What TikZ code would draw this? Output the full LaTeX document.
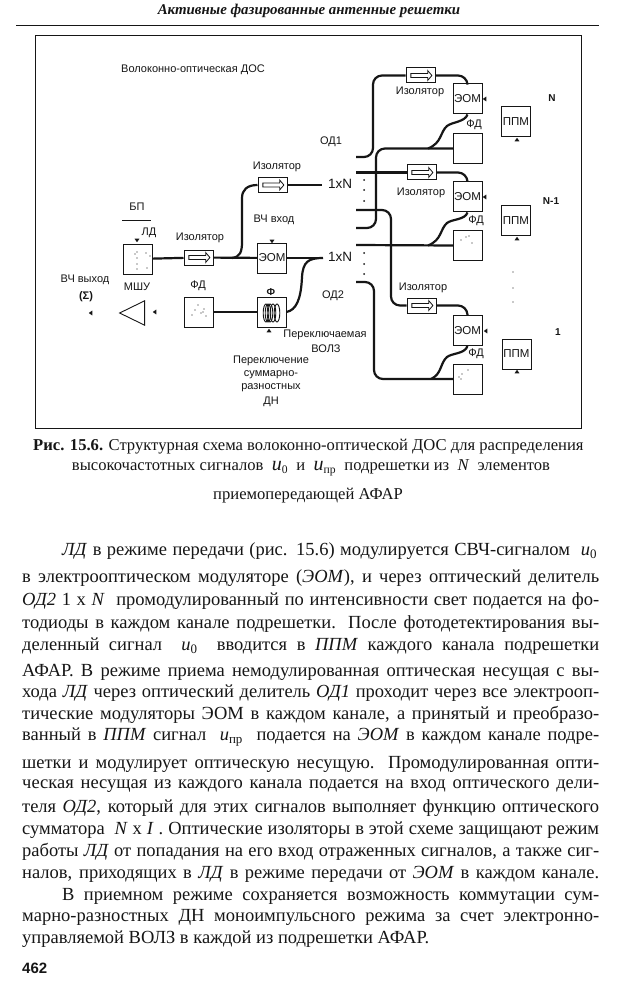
\documentclass[tikz,border=0pt]{standalone}
\usepackage{fontspec}
\setmainfont{Liberation Serif}
\newfontfamily\diagfont{Liberation Sans}
\usetikzlibrary{calc, positioning, arrows.meta, shapes.geometric, shapes.arrows}
\definecolor{inkblack}{RGB}{22,22,22}
\newcommand{\bodyw}{577pt}

\begin{document}
\begin{tikzpicture}[
  x=1pt, y=-1pt,
  every node/.style={inner sep=0pt, text=inkblack},
  lbl/.style={font=\diagfont\fontsize{11}{12}\selectfont, align=center},
  eomtxt/.style={font=\diagfont\fontsize{11.5}{12}\selectfont},
  blk/.style={draw=inkblack, line width=1pt, fill=white, minimum width=29pt, minimum height=30pt},
  isobox/.style={draw=inkblack, line width=1pt, fill=white, minimum width=29pt, minimum height=15pt},
  flow/.style={single arrow, draw=inkblack, line width=0.8pt, minimum width=10pt,
               minimum height=21pt, single arrow head extend=2pt, single arrow tip angle=100, inner sep=1pt},
  fibre/.style={draw=inkblack, line width=2.2pt, rounded corners=9pt},
  fibrecurve/.style={draw=inkblack, line width=2.2pt},
  tick/.style={fill=inkblack, isosceles triangle, isosceles triangle apex angle=70, minimum size=3.5pt},
  speck/.style={circle, fill=inkblack, minimum size=1.2pt},
  bodyln/.style={anchor=west, font=\fontsize{18.5}{20}\selectfont},
  captln/.style={font=\fontsize{16.6}{18}\selectfont}
]
\useasboundingbox (0,0) rectangle (632,1000);
\fill[white] (0,0) rectangle (632,1000);
% page head
\node[font=\bfseries\itshape\fontsize{14.9}{16}\selectfont] (head) at (309,11) {Активные фазированные антенные решетки};
\coordinate (ruleL) at (16,25);
\coordinate (ruleR) at (599,25);
\draw[line width=0.9pt, inkblack] (ruleL) -- (ruleR);
% frame
\draw[line width=1pt, inkblack] (35,36) rectangle (581,428);
\node[lbl] (title) at (193,70) {Волоконно-оптическая ДОС};
% transmitter part
\node[lbl] (bp) at (137,207) {БП};
\draw[line width=0.4pt, inkblack] (122,220) -- (151,220);
\node[lbl] (ldtxt) at (149,233) {ЛД};
\node[blk] (ld) at (137.5,259) {};
\node[tick, shape border rotate=270] (ldtick) at (137,240) {};
\foreach \px/\py in {137/252,137/258,137/264,137/269,146/253,150/256,135/254,147/268}
  \node[speck] at (\px,\py) {};
\node[lbl] (isoAtxt) at (200,238) {Изолятор};
\node[isobox] (isoA) at (198.5,257.5) {};
\node[flow] (isoAf) at (198.5,257.5) {};
\node[blk] (eom) at (272,258) {};
\node[eomtxt] (eomlab) at (272,258) {ЭОМ};
\node[tick, shape border rotate=270] (eomtick) at (272,241) {};
\node[lbl] (vchin) at (274,220) {ВЧ вход};
\node[lbl] (isoBtxt) at (277,167) {Изолятор};
\node[isobox] (isoB) at (272.5,185) {};
\node[flow] (isoBf) at (272.5,185) {};
\node[lbl, font=\diagfont\fontsize{13.5}{15}\selectfont] (spa) at (340,184) {1xN};
\node[lbl, font=\diagfont\fontsize{13.5}{15}\selectfont] (spb) at (340,257) {1xN};
\node[lbl] (oda) at (331,142) {ОД1};
\node[lbl] (odb) at (333,296) {ОД2};
\node[blk] (fd) at (198.5,312) {};
\node[lbl] (fdtxt) at (198,286) {ФД};
\foreach \px/\py in {192/315,195/310,198/305,201/313,204/309,206/316,203/312}
  \node[speck] at (\px,\py) {};
\node[blk] (volz) at (271.5,312) {};
\node[lbl, font=\diagfont\bfseries\fontsize{10}{11}\selectfont] (phi) at (271,292) {Ф};
\foreach \cx in {266,268,270,273,277}
  \draw[line width=0.9pt, inkblack] (\cx,313) ellipse (2.8pt and 9pt);
\node[tick, shape border rotate=90] (voltick) at (269,331) {};
\node[lbl] (sw) at (325,335) {Переключаемая};
\node[lbl] (swb) at (326,349) {ВОЛЗ};
\node[lbl] (swc) at (271,361) {Переключение};
\node[lbl] (swd) at (271,375) {суммарно-};
\node[lbl] (swe) at (271,388) {разностных};
\node[lbl] (swf) at (271,402) {ДН};
\node[lbl] (mshu) at (137,287) {МШУ};
\node[draw=inkblack, line width=0.9pt, isosceles triangle, isosceles triangle apex angle=52,
      shape border rotate=180, minimum height=25pt, inner sep=0pt] (amp) at (137,313) {};
\node[tick, shape border rotate=180] (amptick) at (155,312) {};
\node[lbl] (vchout) at (85,280) {ВЧ выход};
\node[lbl, font=\diagfont\bfseries\fontsize{11}{12}\selectfont] (sum) at (86,297) {(Σ)};
\node[tick, shape border rotate=180] (outtick) at (91,313) {};
% channel N
\node[isobox] (isoN) at (420.5,75.5) {};
\node[flow] (isoNf) at (420.5,75.5) {};
\node[lbl] (isoNtxt) at (420,92) {Изолятор};
\node[blk] (eomN) at (467.5,99) {};
\node[eomtxt] (eomNlab) at (467.5,99) {ЭОМ};
\node[tick, shape border rotate=180] (eomNtick) at (485,99) {};
\node[lbl] (fdNtxt) at (474,125) {ФД};
\node[blk] (fdN) at (468,148.5) {};
\node[blk, eomtxt] (ppmN) at (516,122) {ППМ};
\node[tick, shape border rotate=90] (ppmNtick) at (517,140) {};
\node[lbl, font=\diagfont\bfseries\fontsize{10}{11}\selectfont] (chN) at (552,98) {N};
% channel N-1
\node[isobox] (isoM) at (421.5,172.5) {};
\node[flow] (isoMf) at (421.5,172.5) {};
\node[lbl] (isoMtxt) at (421,193) {Изолятор};
\node[blk] (eomM) at (467.5,197) {};
\node[eomtxt] (eomMlab) at (467.5,197) {ЭОМ};
\node[tick, shape border rotate=180] (eomMtick) at (485,197) {};
\node[lbl] (fdMtxt) at (476,221) {ФД};
\node[blk] (fdM) at (468,245.5) {};
\foreach \px/\py in {461/240,466/237,469/236,472/243}
  \node[speck] at (\px,\py) {};
\node[blk, eomtxt] (ppmM) at (516,221) {ППМ};
\node[tick, shape border rotate=90] (ppmMtick) at (517,239) {};
\node[lbl, font=\diagfont\bfseries\fontsize{10}{11}\selectfont] (chM) at (551,201) {N-1};
% channel 1
\node[isobox] (isoP) at (421.5,305.5) {};
\node[flow] (isoPf) at (421.5,305.5) {};
\node[lbl] (isoPtxt) at (423,288) {Изолятор};
\node[blk] (eomP) at (467.5,330.5) {};
\node[eomtxt] (eomPlab) at (467.5,330.5) {ЭОМ};
\node[tick, shape border rotate=180] (eomPtick) at (486,331) {};
\node[lbl] (fdPtxt) at (476,354) {ФД};
\node[blk] (fdP) at (468,379) {};
\foreach \px/\py in {459/377,462/374,468/370,461/379}
  \node[speck] at (\px,\py) {};
\node[blk, eomtxt] (ppmP) at (516.5,354) {ППМ};
\node[tick, shape border rotate=90] (ppmPtick) at (517,372) {};
\node[lbl, font=\diagfont\bfseries\fontsize{10}{11}\selectfont] (chP) at (558,332) {1};
% splitter dots
\foreach \py in {180,190,201,253,264,274}
  \node[speck, minimum size=2pt] at (364,\py) {};
\foreach \py in {272,288,302}
  \node[speck] at (513,\py) {};
% fibres
\coordinate (spaIn) at (322,185);
\coordinate (spbIn) at (323,258);
\coordinate (a1) at (356,157);
\coordinate (a2) at (356,172.5);
\coordinate (a3) at (356,210);
\coordinate (b1) at (356,228);
\coordinate (b2) at (356,245);
\coordinate (b3) at (356,282);
\draw[fibre] (ld) -- (isoA);
\draw[fibre] (isoA) -- (eom);
\draw[fibre] (eom) -- (spbIn);
\draw[fibrecurve] (232,258) .. controls (240,257) and (242,252) .. (242,242) -- (242,198)
  .. controls (242,190) and (247,185) .. (isoB.west);
\draw[fibre] (isoB) -- (spaIn);
\draw[fibrecurve] (spbIn) .. controls (308,258) and (303,262) .. (302,277)
  .. controls (301,300) and (296,310) .. (volz.east);
\draw[fibre] (fd) -- (volz);
% to isolators
\draw[fibre] (a1) -- (373,157) |- (isoN.west);
\draw[fibre] (a2) -- (isoM.west);
\draw[fibre] (a3) -- (391,210) |- (isoP.west);
\draw[fibre] (isoN.east) -- (467,75.5) -- (eomN.north);
\draw[fibre] (isoM.east) -- (467,172.5) -- (eomM.north);
\draw[fibre] (isoP.east) -- (467,305.5) -- (eomP.north);
% to detectors
\draw[fibre] (b1) -- (376,228) |- (fdN.west);
\draw[fibre] (b2) -- (fdM.west);
\draw[fibre] (b3) -- (374,282) |- (fdP.west);
\draw[fibrecurve] (eomN.south) .. controls (465,122) and (452,122) .. (447,126)
  .. controls (440,132) and (442,143) .. (428,148.5);
\draw[fibrecurve] (eomM.south) .. controls (465,220) and (452,219) .. (447,223)
  .. controls (440,229) and (442,240) .. (428,245.5);
\draw[fibrecurve] (eomP.south) .. controls (465,354) and (452,353) .. (447,357)
  .. controls (440,363) and (442,374) .. (431,379);
% caption
\node[captln, anchor=west] (capA) at (33,447) {\textbf{Рис. 15.6.} Структурная схема волоконно-оптической ДОС для распределения};
\node[captln] (capB) at (311,468) {высокочастотных сигналов \ \textit{\fontsize{20}{20}\selectfont u}\textsubscript{0} \ и \ \textit{\fontsize{20}{20}\selectfont u}\textsubscript{пр} \ подрешетки из \ \textit{N} \ элементов};
\node[captln] (capC) at (308,496) {приемопередающей АФАР};
% body text
\node[bodyln] (ln1) at (62,551) {\makebox[535pt][s]{\textit{ЛД} в режиме передачи (рис. 15.6) модулируется СВЧ-сигналом \ \textit{u}\textsubscript{0}}};
\node[bodyln] (ln2) at (22,578) {\makebox[\bodyw][s]{в электрооптическом модуляторе (\textit{ЭОМ}), и через оптический делитель}};
\node[bodyln] (ln3) at (22,601) {\makebox[\bodyw][s]{\textit{ОД2} 1 x \textit{N} \ промодулированный по интенсивности свет подается на фо-}};
\node[bodyln] (ln4) at (22,624) {\makebox[\bodyw][s]{тодиоды в каждом канале подрешетки. После фотодетектирования вы-}};
\node[bodyln] (ln5) at (22,646) {\makebox[\bodyw][s]{деленный сигнал \ \textit{u}\textsubscript{0} \ вводится в \textit{ППМ} каждого канала подрешетки}};
\node[bodyln] (ln6) at (22,672) {\makebox[\bodyw][s]{АФАР. В режиме приема немодулированная оптическая несущая с вы-}};
\node[bodyln] (ln7) at (22,693) {\makebox[\bodyw][s]{хода \textit{ЛД} через оптический делитель \textit{ОД1} проходит через все электрооп-}};
\node[bodyln] (ln8) at (22,715) {\makebox[\bodyw][s]{тические модуляторы ЭОМ в каждом канале, а принятый и преобразо-}};
\node[bodyln] (ln9) at (22,737) {\makebox[\bodyw][s]{ванный в \textit{ППМ} сигнал \ \textit{u}\textsubscript{пр} \ подается на \textit{ЭОМ} в каждом канале подре-}};
\node[bodyln] (ln10) at (22,764) {\makebox[\bodyw][s]{шетки и модулирует оптическую несущую. Промодулированная опти-}};
\node[bodyln] (ln11) at (22,786) {\makebox[\bodyw][s]{ческая несущая из каждого канала подается на вход оптического дели-}};
\node[bodyln] (ln12) at (22,808) {\makebox[\bodyw][s]{теля \textit{ОД2}, который для этих сигналов выполняет функцию оптического}};
\node[bodyln] (ln13) at (22,830) {\makebox[\bodyw][s]{сумматора \ \textit{N} x \textit{I} . Оптические изоляторы в этой схеме защищают режим}};
\node[bodyln] (ln14) at (22,852) {\makebox[\bodyw][s]{работы \textit{ЛД} от попадания на его вход отраженных сигналов, а также сиг-}};
\node[bodyln] (ln15) at (22,874) {\makebox[\bodyw][s]{налов, приходящих в \textit{ЛД} в режиме передачи от \textit{ЭОМ} в каждом канале.}};
\node[bodyln] (ln16) at (62,896) {\makebox[537pt][s]{В приемном режиме сохраняется возможность коммутации сум-}};
\node[bodyln] (ln17) at (22,917) {\makebox[\bodyw][s]{марно-разностных ДН моноимпульсного режима за счет электронно-}};
\node[bodyln] (ln18) at (22,939) {управляемой ВОЛЗ в каждой из подрешетки АФАР.};
\node[anchor=west, font=\diagfont\bfseries\fontsize{15}{17}\selectfont] (pageno) at (22,968) {462};
\end{tikzpicture}
\end{document}
